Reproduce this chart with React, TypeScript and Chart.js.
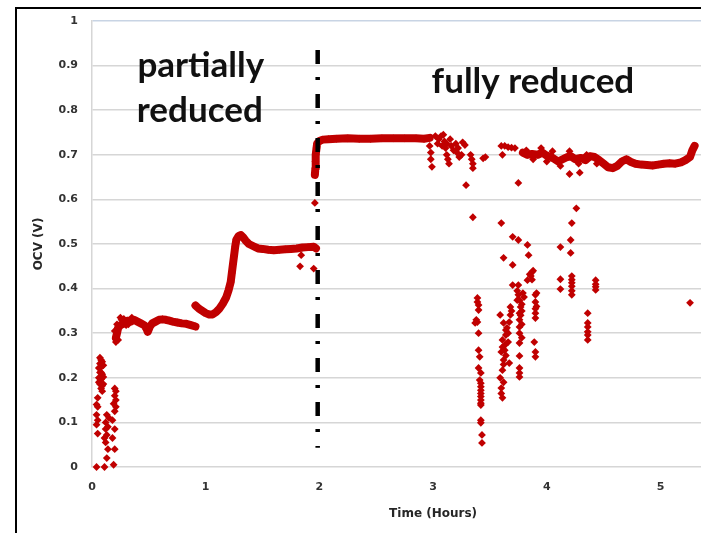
import React, { useEffect, useRef } from "react";
import { Chart, registerables } from "chart.js";

Chart.register(...registerables);

// ---------- data ----------
const X_TICK_MIN = 0;
const X_TICK_MAX = 6;
const Y_TICK_MIN = 0;
const Y_TICK_MAX = 1;
const X_TITLE = "Time (Hours)";
const Y_TITLE = "OCV (V)";
const LABEL_PARTIAL = ["partially", "reduced"];
const LABEL_FULL = "fully reduced";
const DIVIDER_X = 1.985;
const DIVIDER_Y = [0.935, 0.043];

// early scattered readings (hours, volts)
const earlyScatter: number[][] = [
  [0.04, 0.0], [0.11, 0.0], [0.19, 0.005],
  [0.05, 0.075], [0.04, 0.095], [0.05, 0.105], [0.04, 0.117], [0.05, 0.135], [0.04, 0.14], [0.05, 0.155],
  [0.07, 0.245], [0.08, 0.24], [0.07, 0.232], [0.09, 0.236], [0.06, 0.222], [0.08, 0.224], [0.1, 0.228],
  [0.07, 0.212], [0.09, 0.208], [0.06, 0.2], [0.08, 0.196], [0.1, 0.202], [0.07, 0.186], [0.09, 0.182],
  [0.06, 0.19], [0.08, 0.176], [0.1, 0.186], [0.09, 0.17], [0.07, 0.2], [0.08, 0.212],
  [0.13, 0.02], [0.14, 0.04], [0.12, 0.055], [0.11, 0.065], [0.13, 0.072], [0.12, 0.085], [0.14, 0.09],
  [0.12, 0.1], [0.15, 0.11], [0.13, 0.117],
  [0.2, 0.04], [0.18, 0.065], [0.2, 0.085], [0.18, 0.105], [0.2, 0.125], [0.21, 0.135], [0.19, 0.142],
  [0.21, 0.15], [0.2, 0.16], [0.21, 0.17], [0.2, 0.176],
  [0.21, 0.28], [0.23, 0.285], [0.25, 0.335], [0.28, 0.332], [0.32, 0.32], [0.35, 0.335],
  [0.22, 0.32], [0.26, 0.33], [0.3, 0.318], [0.2, 0.305],
  [1.83, 0.45], [1.84, 0.475], [1.95, 0.445], [1.96, 0.592],
];

const plateau03: number[][] = [
  [0.21, 0.29], [0.22, 0.3], [0.23, 0.312], [0.25, 0.318], [0.28, 0.322], [0.31, 0.328], [0.34, 0.326],
  [0.37, 0.33], [0.4, 0.326], [0.43, 0.322], [0.46, 0.318], [0.48, 0.31], [0.49, 0.303], [0.51, 0.315],
  [0.53, 0.322], [0.56, 0.326], [0.59, 0.33], [0.62, 0.331], [0.65, 0.33], [0.68, 0.328], [0.71, 0.326],
  [0.75, 0.324], [0.79, 0.322], [0.83, 0.321], [0.87, 0.318], [0.91, 0.315],
];

const riseTo05: number[][] = [
  [0.91, 0.362], [0.94, 0.355], [0.97, 0.35], [1.0, 0.345], [1.03, 0.342], [1.06, 0.342], [1.09, 0.347],
  [1.12, 0.355], [1.15, 0.366], [1.18, 0.38], [1.2, 0.395], [1.22, 0.415], [1.23, 0.435], [1.24, 0.455],
  [1.25, 0.475], [1.26, 0.495], [1.27, 0.51], [1.29, 0.518], [1.31, 0.52], [1.33, 0.515], [1.35, 0.508],
  [1.38, 0.5], [1.42, 0.495], [1.46, 0.49], [1.5, 0.489], [1.55, 0.487], [1.6, 0.486], [1.65, 0.487],
  [1.7, 0.488], [1.75, 0.489], [1.8, 0.49], [1.85, 0.492], [1.9, 0.493], [1.95, 0.494], [1.97, 0.49],
];

const plateau073: number[][] = [
  [1.96, 0.655], [1.965, 0.67], [1.965, 0.685], [1.97, 0.7], [1.975, 0.715], [1.98, 0.725], [2.0, 0.731],
  [2.03, 0.734], [2.08, 0.735], [2.15, 0.736], [2.25, 0.737], [2.35, 0.736], [2.45, 0.736], [2.55, 0.737],
  [2.65, 0.737], [2.75, 0.737], [2.85, 0.737], [2.92, 0.736], [2.97, 0.738],
];

const noisy073: number[][] = [
  [2.97, 0.72], [2.98, 0.705], [2.98, 0.69], [2.99, 0.673], [3.02, 0.742], [3.05, 0.735], [3.07, 0.742],
  [3.09, 0.745], [3.1, 0.73], [3.11, 0.715], [3.12, 0.7], [3.13, 0.69], [3.14, 0.68], [3.12, 0.725],
  [3.16, 0.72], [3.18, 0.71], [3.2, 0.725], [3.21, 0.705], [3.22, 0.715], [3.23, 0.695], [3.25, 0.7],
  [3.26, 0.728], [3.28, 0.722], [3.29, 0.632], [3.33, 0.7], [3.34, 0.69], [3.35, 0.68], [3.35, 0.67],
  [3.35, 0.56], [3.44, 0.692], [3.46, 0.695], [3.6, 0.72], [3.61, 0.7], [3.63, 0.72], [3.66, 0.717],
  [3.69, 0.716], [3.72, 0.715], [3.75, 0.637], [3.6, 0.547], [4.2, 0.657], [4.29, 0.66],
  [3.95, 0.715], [4.05, 0.708], [4.2, 0.708], [4.35, 0.7], [4.0, 0.685], [4.28, 0.68], [4.12, 0.675],
  [4.44, 0.68], [3.82, 0.71], [3.88, 0.69], [3.04, 0.725], [3.08, 0.72], [3.15, 0.735],
];

const band070: number[][] = [
  [3.79, 0.705], [3.83, 0.7], [3.87, 0.702], [3.92, 0.7], [3.96, 0.705], [4.0, 0.698], [4.04, 0.695],
  [4.07, 0.69], [4.1, 0.685], [4.14, 0.69], [4.18, 0.695], [4.21, 0.697], [4.25, 0.69], [4.3, 0.693],
  [4.34, 0.688], [4.38, 0.697], [4.42, 0.695], [4.46, 0.688], [4.5, 0.68], [4.54, 0.672], [4.58, 0.67],
  [4.62, 0.675], [4.66, 0.685], [4.7, 0.69], [4.74, 0.684], [4.78, 0.68], [4.83, 0.678], [4.88, 0.677],
  [4.93, 0.676], [4.98, 0.678], [5.03, 0.68], [5.08, 0.681], [5.13, 0.68], [5.18, 0.683], [5.22, 0.688],
  [5.26, 0.695], [5.28, 0.71], [5.3, 0.72],
];

const dropouts: number[][] = [
  // column near 3.4 h
  [3.39, 0.379], [3.39, 0.37], [3.4, 0.363], [3.4, 0.352], [3.38, 0.33], [3.37, 0.323], [3.39, 0.325],
  [3.4, 0.3], [3.4, 0.262], [3.41, 0.247], [3.4, 0.222], [3.42, 0.211], [3.41, 0.195], [3.42, 0.188],
  [3.42, 0.18], [3.42, 0.172], [3.42, 0.165], [3.42, 0.158], [3.42, 0.15], [3.42, 0.143], [3.42, 0.139],
  [3.42, 0.105], [3.42, 0.099], [3.43, 0.072], [3.43, 0.054],
  // column 3.6-3.7 h
  [3.61, 0.155], [3.6, 0.177], [3.59, 0.2], [3.61, 0.217], [3.6, 0.258], [3.62, 0.24], [3.67, 0.233],
  [3.61, 0.285], [3.63, 0.273], [3.64, 0.296], [3.65, 0.312], [3.67, 0.325], [3.68, 0.341], [3.68, 0.359],
  [3.59, 0.341], [3.62, 0.323], [3.64, 0.307], [3.63, 0.262], [3.61, 0.269], [3.6, 0.165], [3.62, 0.19],
  [3.62, 0.23], [3.66, 0.28], [3.66, 0.3], [3.69, 0.35], [3.64, 0.25],
  // column near 3.77 h
  [3.79, 0.39], [3.76, 0.374], [3.77, 0.359], [3.76, 0.345], [3.76, 0.33], [3.76, 0.314], [3.76, 0.3],
  [3.76, 0.278], [3.76, 0.249], [3.76, 0.222], [3.76, 0.211], [3.76, 0.202], [3.8, 0.381], [3.74, 0.374],
  [3.75, 0.386], [3.78, 0.365], [3.78, 0.35], [3.78, 0.32], [3.78, 0.29], [3.77, 0.34],
  // column near 3.9 h
  [3.9, 0.386], [3.9, 0.37], [3.9, 0.355], [3.9, 0.345], [3.9, 0.334], [3.89, 0.28], [3.9, 0.258],
  [3.9, 0.247], [3.91, 0.39], [3.91, 0.36],
  // upper cluster
  [3.7, 0.408], [3.75, 0.408], [3.83, 0.419], [3.87, 0.437], [3.86, 0.428], [3.87, 0.42], [3.85, 0.432],
  [3.88, 0.44], [3.84, 0.475], [3.83, 0.498], [3.75, 0.509], [3.7, 0.516], [3.62, 0.469], [3.7, 0.453],
  [3.74, 0.395],
  // right group
  [4.12, 0.493], [4.21, 0.48], [4.26, 0.58], [4.22, 0.547], [4.21, 0.509], [4.12, 0.421], [4.12, 0.399],
  [4.22, 0.428], [4.22, 0.42], [4.22, 0.413], [4.22, 0.405], [4.22, 0.395], [4.22, 0.386], [4.43, 0.419],
  [4.43, 0.41], [4.43, 0.404], [4.43, 0.397], [4.36, 0.345], [4.36, 0.323], [4.36, 0.314], [4.36, 0.303],
  [4.36, 0.296], [4.36, 0.285], [5.26, 0.368],
];

// ---------- chart ----------
const RED = "#C00000";
const LABEL_FONT = "Lato, 'Open Sans', sans-serif";
const AXIS_FONT = "'DejaVu Sans', sans-serif";

const toPts = (a: number[][]) => a.map(([x, y]) => ({ x, y }));

const pointSet = (arr: number[][]) => ({
  data: toPts(arr),
  showLine: false,
  pointStyle: "rectRot" as const,
  pointRadius: 3.9,
  pointBorderWidth: 0,
  backgroundColor: RED,
  borderColor: RED,
  clip: false as const,
});

const lineSet = (arr: number[][]) => ({
  data: toPts(arr),
  showLine: true,
  borderWidth: 8,
  borderColor: RED,
  backgroundColor: RED,
  borderJoinStyle: "round" as const,
  borderCapStyle: "round" as const,
  pointStyle: "rectRot" as const,
  pointRadius: 3.9,
  pointBorderWidth: 0,
  tension: 0,
  clip: false as const,
});

const annotationPlugin = {
  id: "regionLabels",
  afterDatasetsDraw(chart: any) {
    const { ctx, scales } = chart;
    const x = scales.x;
    const y = scales.y;
    ctx.save();
    ctx.fillStyle = "#111111";
    ctx.font = `bold 35px ${LABEL_FONT}`;
    ctx.textAlign = "center";
    ctx.textBaseline = "alphabetic";
    ctx.fillText(LABEL_PARTIAL[0], x.getPixelForValue(0.957), y.getPixelForValue(0.874));
    ctx.fillText(LABEL_PARTIAL[1], x.getPixelForValue(0.948), y.getPixelForValue(0.7735));
    ctx.fillText(LABEL_FULL, x.getPixelForValue(3.878), y.getPixelForValue(0.8386));
    ctx.restore();
  },
};

function OcvChart() {
  const ref = useRef<HTMLCanvasElement | null>(null);

  useEffect(() => {
    if (!ref.current) return;
    const chart = new Chart(ref.current, {
      type: "scatter",
      data: {
        datasets: [
          {
            data: [
              { x: DIVIDER_X, y: DIVIDER_Y[0] },
              { x: DIVIDER_X, y: DIVIDER_Y[1] },
            ],
            showLine: true,
            borderColor: "#000000",
            borderWidth: 4.5,
            borderDash: [14, 13, 3, 14],
            borderCapStyle: "butt",
            pointRadius: 0,
            clip: false,
          } as any,
          lineSet(plateau03),
          lineSet(riseTo05),
          lineSet(plateau073),
          lineSet(band070),
          pointSet(earlyScatter),
          pointSet(noisy073),
          pointSet(dropouts),
        ],
      },
      options: {
        animation: false,
        responsive: false,
        events: [],
        layout: { padding: { top: 21, left: 0, right: 10, bottom: 0 } },
        plugins: {
          legend: { display: false },
          tooltip: { enabled: false },
        },
        scales: {
          x: {
            type: "linear",
            min: X_TICK_MIN,
            max: X_TICK_MAX,
            afterFit: (s: any) => {
              s.height = 66;
            },
            ticks: {
              stepSize: 1,
              padding: 14,
              color: "#333333",
              font: { family: AXIS_FONT, weight: "bold", size: 11 },
            },
            grid: { display: false, drawTicks: false },
            border: { display: false },
            title: {
              display: true,
              text: X_TITLE,
              color: "#262626",
              font: { family: AXIS_FONT, weight: "bold", size: 12 },
              padding: { top: 0, bottom: 12 },
            },
          },
          y: {
            type: "linear",
            min: Y_TICK_MIN,
            max: Y_TICK_MAX,
            afterFit: (s: any) => {
              s.width = 92;
            },
            ticks: {
              stepSize: 0.1,
              padding: 14,
              color: "#333333",
              font: { family: AXIS_FONT, weight: "bold", size: 11 },
              callback: (v: any) => String(+Number(v).toFixed(1)),
            },
            grid: {
              drawTicks: false,
              lineWidth: 1.5,
              color: (c: any) => (c.tick && c.tick.value === 1 ? "#c8d4e4" : "#d6d6d6"),
            },
            border: { display: true, color: "#d6d6d6", width: 1.5 },
            title: {
              display: true,
              text: Y_TITLE,
              color: "#262626",
              font: { family: AXIS_FONT, weight: "bold", size: 12 },
              padding: { top: 32, bottom: 0 },
            },
          },
        },
      },
      plugins: [annotationPlugin],
    });
    return () => chart.destroy();
  }, []);

  return (
    <canvas
      ref={ref}
      width={792}
      height={533}
      style={{ position: "absolute", left: 0, top: 0, width: 792, height: 533, display: "block" }}
    />
  );
}

export default function App() {
  return (
    <div
      style={{
        position: "absolute",
        left: 0,
        top: 0,
        width: 701,
        height: 533,
        overflow: "hidden",
        background: "#ffffff",
      }}
    >
      <div
        style={{
          position: "absolute",
          left: 15,
          top: 7,
          width: 820,
          height: 600,
          borderLeft: "2px solid #000",
          borderTop: "2px solid #000",
        }}
      />
      <OcvChart />
    </div>
  );
}
